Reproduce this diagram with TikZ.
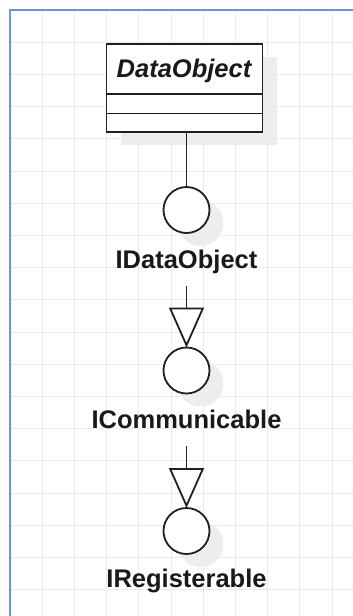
\documentclass[tikz,border=0pt]{standalone}
\usepackage{fontspec}
\setmainfont{Liberation Sans}
\usetikzlibrary{arrows.meta,calc,shadows}

\begin{document}
\begin{tikzpicture}[x=1pt,y=-1pt,
  umlline/.style={draw=black!88, line width=1.8pt},
  shadowed/.style={drop shadow={shadow xshift=14pt,shadow yshift=-13pt,fill=black!7,opacity=1}},
  classbox/.style={umlline, fill=white, shadowed, minimum width=156pt, minimum height=88pt, inner sep=0pt, outer sep=0pt},
  iface/.style={umlline, circle, fill=white, shadowed, minimum size=46pt, inner sep=0pt, outer sep=0pt},
  lbl/.style={font=\fontsize{25.5}{30}\selectfont\bfseries, text=black!90, inner sep=0pt, text depth=0pt, anchor=base},
  gen/.style={umlline, line join=miter, -{Triangle[length=40pt,width=35pt,fill=white]}, shorten <=17.7pt},
  gridline/.style={draw=black!8, line width=1pt},
  frame/.style={draw={rgb,255:red,110;green,148;blue,210}, line width=2pt}
]
% page and background
\useasboundingbox (0,0) rectangle (353,616);
\fill[white] (0,0) rectangle (353,616);

% grid inside the frame
\foreach \k in {1,...,10}
  \draw[gridline] ({10+32.2*\k},10) -- ({10+32.2*\k},616);
\foreach \k in {1,...,18}
  \draw[gridline] (10,{10+32.2*\k}) -- (353,{10+32.2*\k});
\draw[frame] (9.5,616) -- (9.5,10) -- (353,10);

% class with empty attribute and operation compartments
\node[classbox] (cls) at (184.5,88) {};
\draw[umlline] ($(cls.north west)+(0,50)$) -- ($(cls.north east)+(0,50)$);
\draw[umlline] ($(cls.north west)+(0,69.5)$) -- ($(cls.north east)+(0,69.5)$);
\node[lbl, font=\fontsize{25.5}{30}\selectfont\bfseries\itshape] (clsname) at (184,77.3) {DataObject};

% provided interfaces (lollipops)
\node[iface] (c1) at (186.5,210) {};
\node[iface] (c2) at (186.5,370.5) {};
\node[iface] (c3) at (186.5,531) {};

\node[lbl] (lab1) at (186.5,268.3) {IDataObject};
\node[lbl] (lab2) at (186.5,428) {ICommunicable};
\node[lbl] (lab3) at (186.5,587.3) {IRegisterable};

% realisation and generalisations
\draw[umlline] (c1 |- cls.south) -- (c1.north);
\draw[gen] (lab1.south) -- (c2.north);
\draw[gen] (lab2.south) -- (c3.north);
\end{tikzpicture}
\end{document}
